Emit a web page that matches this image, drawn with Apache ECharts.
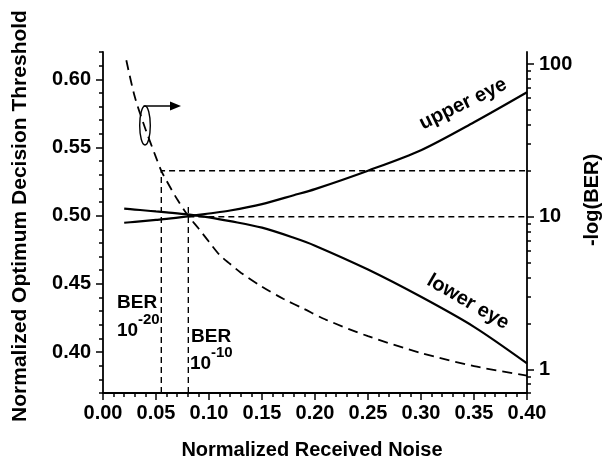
<!DOCTYPE html>
<html>
<head>
<meta charset="utf-8">
<script src="https://cdn.jsdelivr.net/npm/echarts@6/dist/echarts.min.js"></script>
<style>html,body{margin:0;padding:0;background:#fff;}#c{width:605px;height:460px;}</style>
</head>
<body>
<div id="c"></div>
<script>
// ---- data ----
var noise = [0.02, 0.03, 0.04, 0.05, 0.06, 0.08, 0.10, 0.12, 0.15, 0.18, 0.20, 0.25, 0.30, 0.35, 0.40];
var upperEye = [0.4948, 0.4955, 0.4962, 0.4969, 0.4976, 0.4995, 0.5016, 0.5038, 0.5085, 0.5150, 0.5195, 0.5330, 0.5480, 0.5685, 0.5905];
var lowerEye = [0.5052, 0.5045, 0.5038, 0.5031, 0.5024, 0.5009, 0.4988, 0.4960, 0.4912, 0.4838, 0.4780, 0.4605, 0.4405, 0.4185, 0.3917];
var berNoise = [0.022, 0.03, 0.04, 0.05, 0.055, 0.06, 0.07, 0.08, 0.09, 0.10, 0.11, 0.12, 0.13, 0.15, 0.17, 0.19, 0.21, 0.25, 0.30, 0.35, 0.40];
var berValue = [106, 61, 37.6, 24.5, 20, 17.2, 13.0, 10.2, 8.4, 6.85, 5.62, 4.9, 4.3, 3.48, 2.9, 2.48, 2.12, 1.65, 1.28, 1.05, 0.91];
var ber20Noise = 0.055, ber20Level = 20;
var ber10Noise = 0.0805, ber10Level = 10;
var leftMajor = [0.40, 0.45, 0.50, 0.55, 0.60];
var leftMinor = [0.37, 0.38, 0.39, 0.41, 0.42, 0.43, 0.44, 0.46, 0.47, 0.48, 0.49, 0.51, 0.52, 0.53, 0.54, 0.56, 0.57, 0.58, 0.59, 0.61, 0.62];
var rightMajor = [1, 10, 100];
var rightMinor = [0.7, 0.8, 0.9, 2, 3, 4, 5, 6, 7, 8, 9, 20, 30, 40, 50, 60, 70, 80, 90];
var xMin = 0, xMax = 0.40, yMin = 0.37, yMax = 0.62, rMin = 0.7, rMax = 120;

function zip(a, b) { return a.map(function (v, i) { return [v, b[i]]; }); }

var FONT = '"Liberation Sans", Arial, sans-serif';
var AX = { lineStyle: { color: '#000', width: 1.8 } };
var lab = { color: '#000', fontFamily: FONT, fontWeight: 'bold', fontSize: 20 };
var gridRect = { left: 103, right: 78, top: 52, bottom: 67, containLabel: false };

var chart = echarts.init(document.getElementById('c'), null, { renderer: 'canvas' });
chart.setOption({
  backgroundColor: '#fff',
  animation: false,
  grid: [Object.assign({}, gridRect), Object.assign({}, gridRect)],
  xAxis: [
    { type: 'value', gridIndex: 0, min: xMin, max: xMax, interval: 0.05,
      axisLine: AX, axisTick: { length: 7, lineStyle: { color: '#000', width: 1.5 } },
      minorTick: { show: true, splitNumber: 5, length: 4, lineStyle: { color: '#000', width: 1.5 } },
      splitLine: { show: false },
      axisLabel: Object.assign({ margin: 10, formatter: function (v) { return v.toFixed(2); } }, lab) },
    { type: 'value', gridIndex: 1, min: xMin, max: xMax, show: false }
  ],
  yAxis: [
    { type: 'value', gridIndex: 0, position: 'left', min: yMin, max: yMax,
      axisLine: Object.assign({ show: true }, AX),
      axisTick: { show: true, length: 7, customValues: leftMajor, lineStyle: { color: '#000', width: 1.5 } },
      splitLine: { show: false },
      axisLabel: Object.assign({ margin: 12, customValues: leftMajor, formatter: function (v) { return v.toFixed(2); } }, lab) },
    { type: 'log', gridIndex: 0, position: 'right', logBase: 10, min: rMin, max: rMax,
      axisLine: Object.assign({ show: true }, AX),
      axisTick: { show: true, length: 7, customValues: rightMajor, lineStyle: { color: '#000', width: 1.5 } },
      splitLine: { show: false }, minorTick: { show: false },
      axisLabel: Object.assign({ margin: 12, customValues: rightMajor, formatter: function (v) { return String(Math.round(v)); } }, lab) },
    { type: 'value', gridIndex: 1, position: 'left', min: yMin, max: yMax,
      axisLine: { show: false },
      axisTick: { show: true, length: 4, customValues: leftMinor, lineStyle: { color: '#000', width: 1.5 } },
      axisLabel: { show: false }, splitLine: { show: false } },
    { type: 'log', gridIndex: 1, position: 'right', logBase: 10, min: rMin, max: rMax,
      axisLine: { show: false },
      axisTick: { show: true, length: 4, customValues: rightMinor, lineStyle: { color: '#000', width: 1.5 } },
      axisLabel: { show: false }, splitLine: { show: false }, minorTick: { show: false } }
  ],
  series: [
    { name: 'upper eye', type: 'line', xAxisIndex: 0, yAxisIndex: 0, data: zip(noise, upperEye),
      smooth: 0.3, showSymbol: false, symbol: 'none',
      lineStyle: { color: '#000', width: 2.2 } },
    { name: 'lower eye', type: 'line', xAxisIndex: 0, yAxisIndex: 0, data: zip(noise, lowerEye),
      smooth: 0.3, showSymbol: false, symbol: 'none',
      lineStyle: { color: '#000', width: 2.2 } },
    { name: '-log(BER)', type: 'line', xAxisIndex: 0, yAxisIndex: 1, data: zip(berNoise, berValue),
      smooth: 0.3, showSymbol: false, symbol: 'none',
      lineStyle: { color: '#000', width: 1.8, type: [10, 6] } },
    { name: 'ref20', type: 'line', xAxisIndex: 0, yAxisIndex: 1, symbol: 'none',
      data: [[ber20Noise, rMin], [ber20Noise, ber20Level], [xMax, ber20Level]],
      lineStyle: { color: '#000', width: 1.4, type: [6, 4] } },
    { name: 'ref10v', type: 'line', xAxisIndex: 0, yAxisIndex: 1, symbol: 'none',
      data: [[ber10Noise, rMin], [ber10Noise, 12]],
      lineStyle: { color: '#000', width: 1.4, type: [6, 4] } },
    { name: 'ref10h', type: 'line', xAxisIndex: 0, yAxisIndex: 1, symbol: 'none',
      data: [[ber10Noise, ber10Level], [xMax, ber10Level]],
      lineStyle: { color: '#000', width: 1.4, type: [6, 4] } }
  ],
  graphic: [
    { type: 'text', x: 20, y: 216, rotation: Math.PI / 2,
      style: { text: 'Normalized Optimum Decision Threshold', fill: '#000', font: 'bold 21px ' + FONT, align: 'center', verticalAlign: 'middle' } },
    { type: 'text', x: 312, y: 450,
      style: { text: 'Normalized Received Noise', fill: '#000', font: 'bold 20px ' + FONT, align: 'center', verticalAlign: 'middle' } },
    { type: 'text', x: 592, y: 200, rotation: Math.PI / 2,
      style: { text: '-log(BER)', fill: '#000', font: 'bold 20px ' + FONT, align: 'center', verticalAlign: 'middle' } },
    { type: 'text', x: 463, y: 104, rotation: 26 * Math.PI / 180,
      style: { text: 'upper eye', fill: '#000', font: 'bold 20px ' + FONT, align: 'center', verticalAlign: 'middle' } },
    { type: 'text', x: 468, y: 302, rotation: -30 * Math.PI / 180,
      style: { text: 'lower eye', fill: '#000', font: 'bold 20px ' + FONT, align: 'center', verticalAlign: 'middle' } },
    { type: 'text', x: 117, y: 303, style: { text: 'BER', fill: '#000', font: 'bold 19px ' + FONT, align: 'left', verticalAlign: 'middle' } },
    { type: 'text', x: 117, y: 331, style: { text: '10', fill: '#000', font: 'bold 19px ' + FONT, align: 'left', verticalAlign: 'middle' } },
    { type: 'text', x: 138, y: 320, style: { text: '-20', fill: '#000', font: 'bold 15px ' + FONT, align: 'left', verticalAlign: 'middle' } },
    { type: 'text', x: 191, y: 337, style: { text: 'BER', fill: '#000', font: 'bold 19px ' + FONT, align: 'left', verticalAlign: 'middle' } },
    { type: 'text', x: 190, y: 364, style: { text: '10', fill: '#000', font: 'bold 19px ' + FONT, align: 'left', verticalAlign: 'middle' } },
    { type: 'text', x: 211, y: 353, style: { text: '-10', fill: '#000', font: 'bold 15px ' + FONT, align: 'left', verticalAlign: 'middle' } },
    { type: 'ellipse', shape: { cx: 145, cy: 125.5, rx: 5.3, ry: 19.5 }, style: { fill: 'none', stroke: '#000', lineWidth: 1.4 } },
    { type: 'line', shape: { x1: 143.5, y1: 106, x2: 172, y2: 106 }, style: { stroke: '#000', lineWidth: 1.5 } },
    { type: 'polygon', shape: { points: [[170, 101.5], [181, 106], [170, 110.5]] }, style: { fill: '#000' } }
  ]
});
</script>
</body>
</html>
